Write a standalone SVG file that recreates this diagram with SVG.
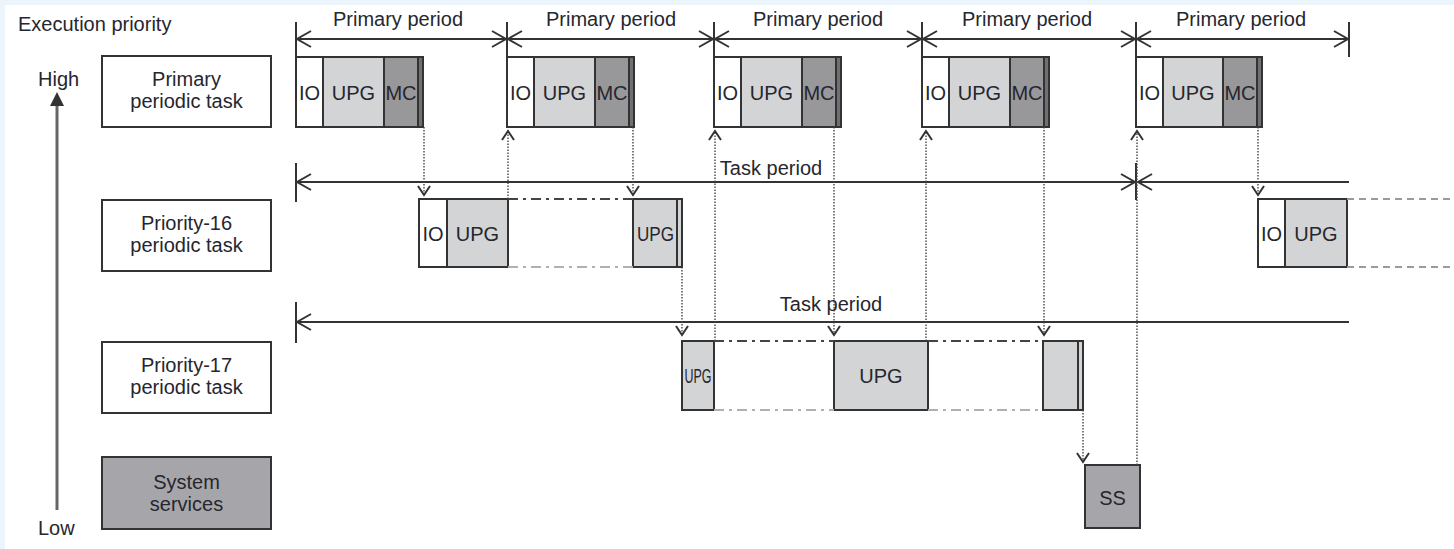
<svg xmlns="http://www.w3.org/2000/svg" width="1454" height="549" viewBox="0 0 1454 549">
<defs>
<style>
text{font-family:"Liberation Sans",Arial,Helvetica,sans-serif;font-size:20px;fill:#26262e}
.c{text-anchor:middle}
.bx{stroke:#333;stroke-width:2}
.lbl{fill:#fff}
.dark{fill:#a6a6aa}
.io{fill:#fff}
.upg{fill:#d3d4d6}
.mc{fill:#98989b}
.st{fill:#707073}
.sol{stroke:#333;stroke-width:2;fill:none}
.dot{stroke:#444;stroke-width:1.4;stroke-dasharray:1.5 1.5;fill:none}
.dd{stroke:#444;stroke-width:2;stroke-dasharray:10 5 3 5}
.ddl{stroke:#b0b0b0;stroke-width:2;stroke-dasharray:10 5 3 5}
.dash{stroke:#9a9a9a;stroke-width:2;stroke-dasharray:7 5}
</style>
<marker id="ah" markerUnits="userSpaceOnUse" viewBox="-2 -2 18 20" refX="14" refY="8" markerWidth="18" markerHeight="20" orient="auto-start-reverse" overflow="visible"><path d="M0,0 L14,8 L0,16" fill="none" stroke="#333" stroke-width="2"/></marker>
<marker id="sa" markerUnits="userSpaceOnUse" viewBox="-2 -2 13 16" refX="9" refY="6" markerWidth="13" markerHeight="16" orient="auto" overflow="visible"><path d="M0,0 L9,6 L0,12" fill="none" stroke="#333" stroke-width="2"/></marker>
</defs>
<rect x="0" y="0" width="1454" height="549" fill="#ecf5fb"/>
<rect x="5" y="5" width="1449" height="544" fill="#fff"/>

<g id="axis">
<text x="18" y="31">Execution priority</text>
<text x="38" y="86">High</text>
<text x="38" y="535">Low</text>
<line x1="57" y1="104" x2="57" y2="510" stroke="#666" stroke-width="3"/>
<polygon points="50,106 57,92 64,106" fill="#333"/>
</g>

<g id="label-primary">
<rect class="bx lbl" x="102" y="56" width="169" height="71"/>
<text class="c" x="186.5" y="86">Primary</text>
<text class="c" x="186.5" y="108">periodic task</text>
</g>
<g id="label-p16">
<rect class="bx lbl" x="102" y="200" width="169" height="71"/>
<text class="c" x="186.5" y="230">Priority-16</text>
<text class="c" x="186.5" y="252">periodic task</text>
</g>
<g id="label-p17">
<rect class="bx lbl" x="102" y="342" width="169" height="71"/>
<text class="c" x="186.5" y="372">Priority-17</text>
<text class="c" x="186.5" y="394">periodic task</text>
</g>
<g id="label-ss">
<rect class="bx dark" x="102" y="457" width="169" height="72"/>
<text class="c" x="186.5" y="489">System</text>
<text class="c" x="186.5" y="511">services</text>
</g>

<g id="primary-1">
<rect class="bx io" x="296" y="57" width="27" height="70"/><rect class="bx upg" x="323" y="57" width="61" height="70"/><rect class="bx mc" x="384" y="57" width="34" height="70"/><rect class="bx st" x="418" y="57" width="5" height="70"/>
<text class="c" x="309.5" y="100">IO</text><text class="c" x="353.5" y="100">UPG</text><text class="c" x="401" y="100">MC</text>
</g>
<g id="primary-2">
<rect class="bx io" x="507" y="57" width="27" height="70"/><rect class="bx upg" x="534" y="57" width="61" height="70"/><rect class="bx mc" x="595" y="57" width="34" height="70"/><rect class="bx st" x="629" y="57" width="5" height="70"/>
<text class="c" x="520.5" y="100">IO</text><text class="c" x="564.5" y="100">UPG</text><text class="c" x="612" y="100">MC</text>
</g>
<g id="primary-3">
<rect class="bx io" x="714" y="57" width="27" height="70"/><rect class="bx upg" x="741" y="57" width="61" height="70"/><rect class="bx mc" x="802" y="57" width="34" height="70"/><rect class="bx st" x="836" y="57" width="5" height="70"/>
<text class="c" x="727.5" y="100">IO</text><text class="c" x="771.5" y="100">UPG</text><text class="c" x="819" y="100">MC</text>
</g>
<g id="primary-4">
<rect class="bx io" x="922" y="57" width="27" height="70"/><rect class="bx upg" x="949" y="57" width="61" height="70"/><rect class="bx mc" x="1010" y="57" width="34" height="70"/><rect class="bx st" x="1044" y="57" width="5" height="70"/>
<text class="c" x="935.5" y="100">IO</text><text class="c" x="979.5" y="100">UPG</text><text class="c" x="1027" y="100">MC</text>
</g>
<g id="primary-5">
<rect class="bx io" x="1136" y="57" width="27" height="70"/><rect class="bx upg" x="1163" y="57" width="60" height="70"/><rect class="bx mc" x="1223" y="57" width="34" height="70"/><rect class="bx st" x="1257" y="57" width="5" height="70"/>
<text class="c" x="1149.5" y="100">IO</text><text class="c" x="1193" y="100">UPG</text><text class="c" x="1240" y="100">MC</text>
</g>

<g id="p16-1">
<rect class="bx io" x="419" y="199" width="28" height="68"/><rect class="bx upg" x="447" y="199" width="61" height="68"/>
<text class="c" x="433" y="241">IO</text><text class="c" x="477.5" y="241">UPG</text>
</g>
<g id="p16-2">
<rect class="bx upg" x="633" y="199" width="44" height="68"/><rect class="bx upg" x="677" y="199" width="5" height="68"/>
<text class="c" x="655.5" y="241" textLength="37" lengthAdjust="spacingAndGlyphs">UPG</text>
</g>
<g id="p16-3">
<rect class="bx io" x="1258" y="199" width="27" height="68"/><rect class="bx upg" x="1285" y="199" width="62" height="68"/>
<text class="c" x="1271.5" y="241">IO</text><text class="c" x="1316" y="241">UPG</text>
</g>

<g id="p17-1">
<rect class="bx upg" x="682" y="341" width="32" height="69"/>
<text class="c" x="698" y="383" textLength="27" lengthAdjust="spacingAndGlyphs">UPG</text>
</g>
<g id="p17-2">
<rect class="bx upg" x="834" y="341" width="94" height="69"/>
<text class="c" x="881" y="383">UPG</text>
</g>
<g id="p17-3">
<rect class="bx upg" x="1043" y="341" width="35" height="69"/><rect class="bx upg" x="1078" y="341" width="5" height="69"/>
</g>

<g id="ss">
<rect class="bx dark" x="1085" y="465" width="55" height="63"/>
<text class="c" x="1112.5" y="505">SS</text>
</g>

<g id="connectors">
<!-- primary periods -->
<text class="c" x="398" y="26">Primary period</text>
<text class="c" x="611" y="26">Primary period</text>
<text class="c" x="818" y="26">Primary period</text>
<text class="c" x="1027" y="26">Primary period</text>
<text class="c" x="1241" y="26">Primary period</text>
<line class="sol" x1="296" y1="22" x2="296" y2="57"/>
<line class="sol" x1="507" y1="22" x2="507" y2="57"/>
<line class="sol" x1="714" y1="22" x2="714" y2="57"/>
<line class="sol" x1="922" y1="22" x2="922" y2="57"/>
<line class="sol" x1="1136" y1="22" x2="1136" y2="57"/>
<line class="sol" x1="1349" y1="22" x2="1349" y2="57" stroke-width="1.5"/>
<line class="sol" x1="297" y1="39" x2="506" y2="39" marker-start="url(#ah)" marker-end="url(#ah)"/>
<line class="sol" x1="508" y1="39" x2="713" y2="39" marker-start="url(#ah)" marker-end="url(#ah)"/>
<line class="sol" x1="715" y1="39" x2="921" y2="39" marker-start="url(#ah)" marker-end="url(#ah)"/>
<line class="sol" x1="923" y1="39" x2="1135" y2="39" marker-start="url(#ah)" marker-end="url(#ah)"/>
<line class="sol" x1="1137" y1="39" x2="1348" y2="39" marker-start="url(#ah)" marker-end="url(#ah)"/>

<!-- task period 1 -->
<text class="c" x="771" y="175">Task period</text>
<line class="sol" x1="296" y1="163" x2="296" y2="202"/>
<line class="sol" x1="297" y1="182" x2="1135" y2="182" marker-start="url(#ah)" marker-end="url(#ah)"/>
<line class="sol" x1="1136" y1="163" x2="1136" y2="200" stroke-width="1.5"/>
<line class="sol" x1="1138" y1="182" x2="1349" y2="182" marker-start="url(#ah)"/>

<!-- task period 2 -->
<text class="c" x="831" y="311">Task period</text>
<line class="sol" x1="296" y1="302" x2="296" y2="343"/>
<line class="sol" x1="297" y1="322" x2="1349" y2="322" marker-start="url(#ah)"/>

<!-- dotted transitions -->
<line class="dot" x1="424" y1="127" x2="424" y2="195" marker-end="url(#sa)"/>
<line class="dot" x1="508" y1="199" x2="508" y2="131" marker-end="url(#sa)"/>
<line class="dot" x1="633" y1="127" x2="633" y2="195" marker-end="url(#sa)"/>
<line class="dot" x1="682" y1="267" x2="682" y2="335" marker-end="url(#sa)"/>
<line class="dot" x1="715" y1="341" x2="715" y2="131" marker-end="url(#sa)"/>
<line class="dot" x1="834" y1="127" x2="834" y2="335" marker-end="url(#sa)"/>
<line class="dot" x1="926" y1="341" x2="926" y2="131" marker-end="url(#sa)"/>
<line class="dot" x1="1044" y1="127" x2="1044" y2="335" marker-end="url(#sa)"/>
<line class="dot" x1="1083" y1="410" x2="1083" y2="462" marker-end="url(#sa)"/>
<line class="dot" x1="1137" y1="465" x2="1137" y2="131" marker-end="url(#sa)"/>
<line class="dot" x1="1258" y1="127" x2="1258" y2="195" marker-end="url(#sa)"/>

<!-- idle gaps -->
<line class="dd" x1="508" y1="199" x2="633" y2="199"/>
<line class="ddl" x1="508" y1="267" x2="633" y2="267"/>
<line class="dd" x1="714" y1="341" x2="834" y2="341"/>
<line class="ddl" x1="714" y1="410" x2="834" y2="410"/>
<line class="dd" x1="928" y1="341" x2="1043" y2="341"/>
<line class="ddl" x1="928" y1="410" x2="1043" y2="410"/>
<line class="dash" x1="1347" y1="199" x2="1454" y2="199"/>
<line class="dash" x1="1347" y1="267" x2="1454" y2="267"/>
</g>
</svg>
